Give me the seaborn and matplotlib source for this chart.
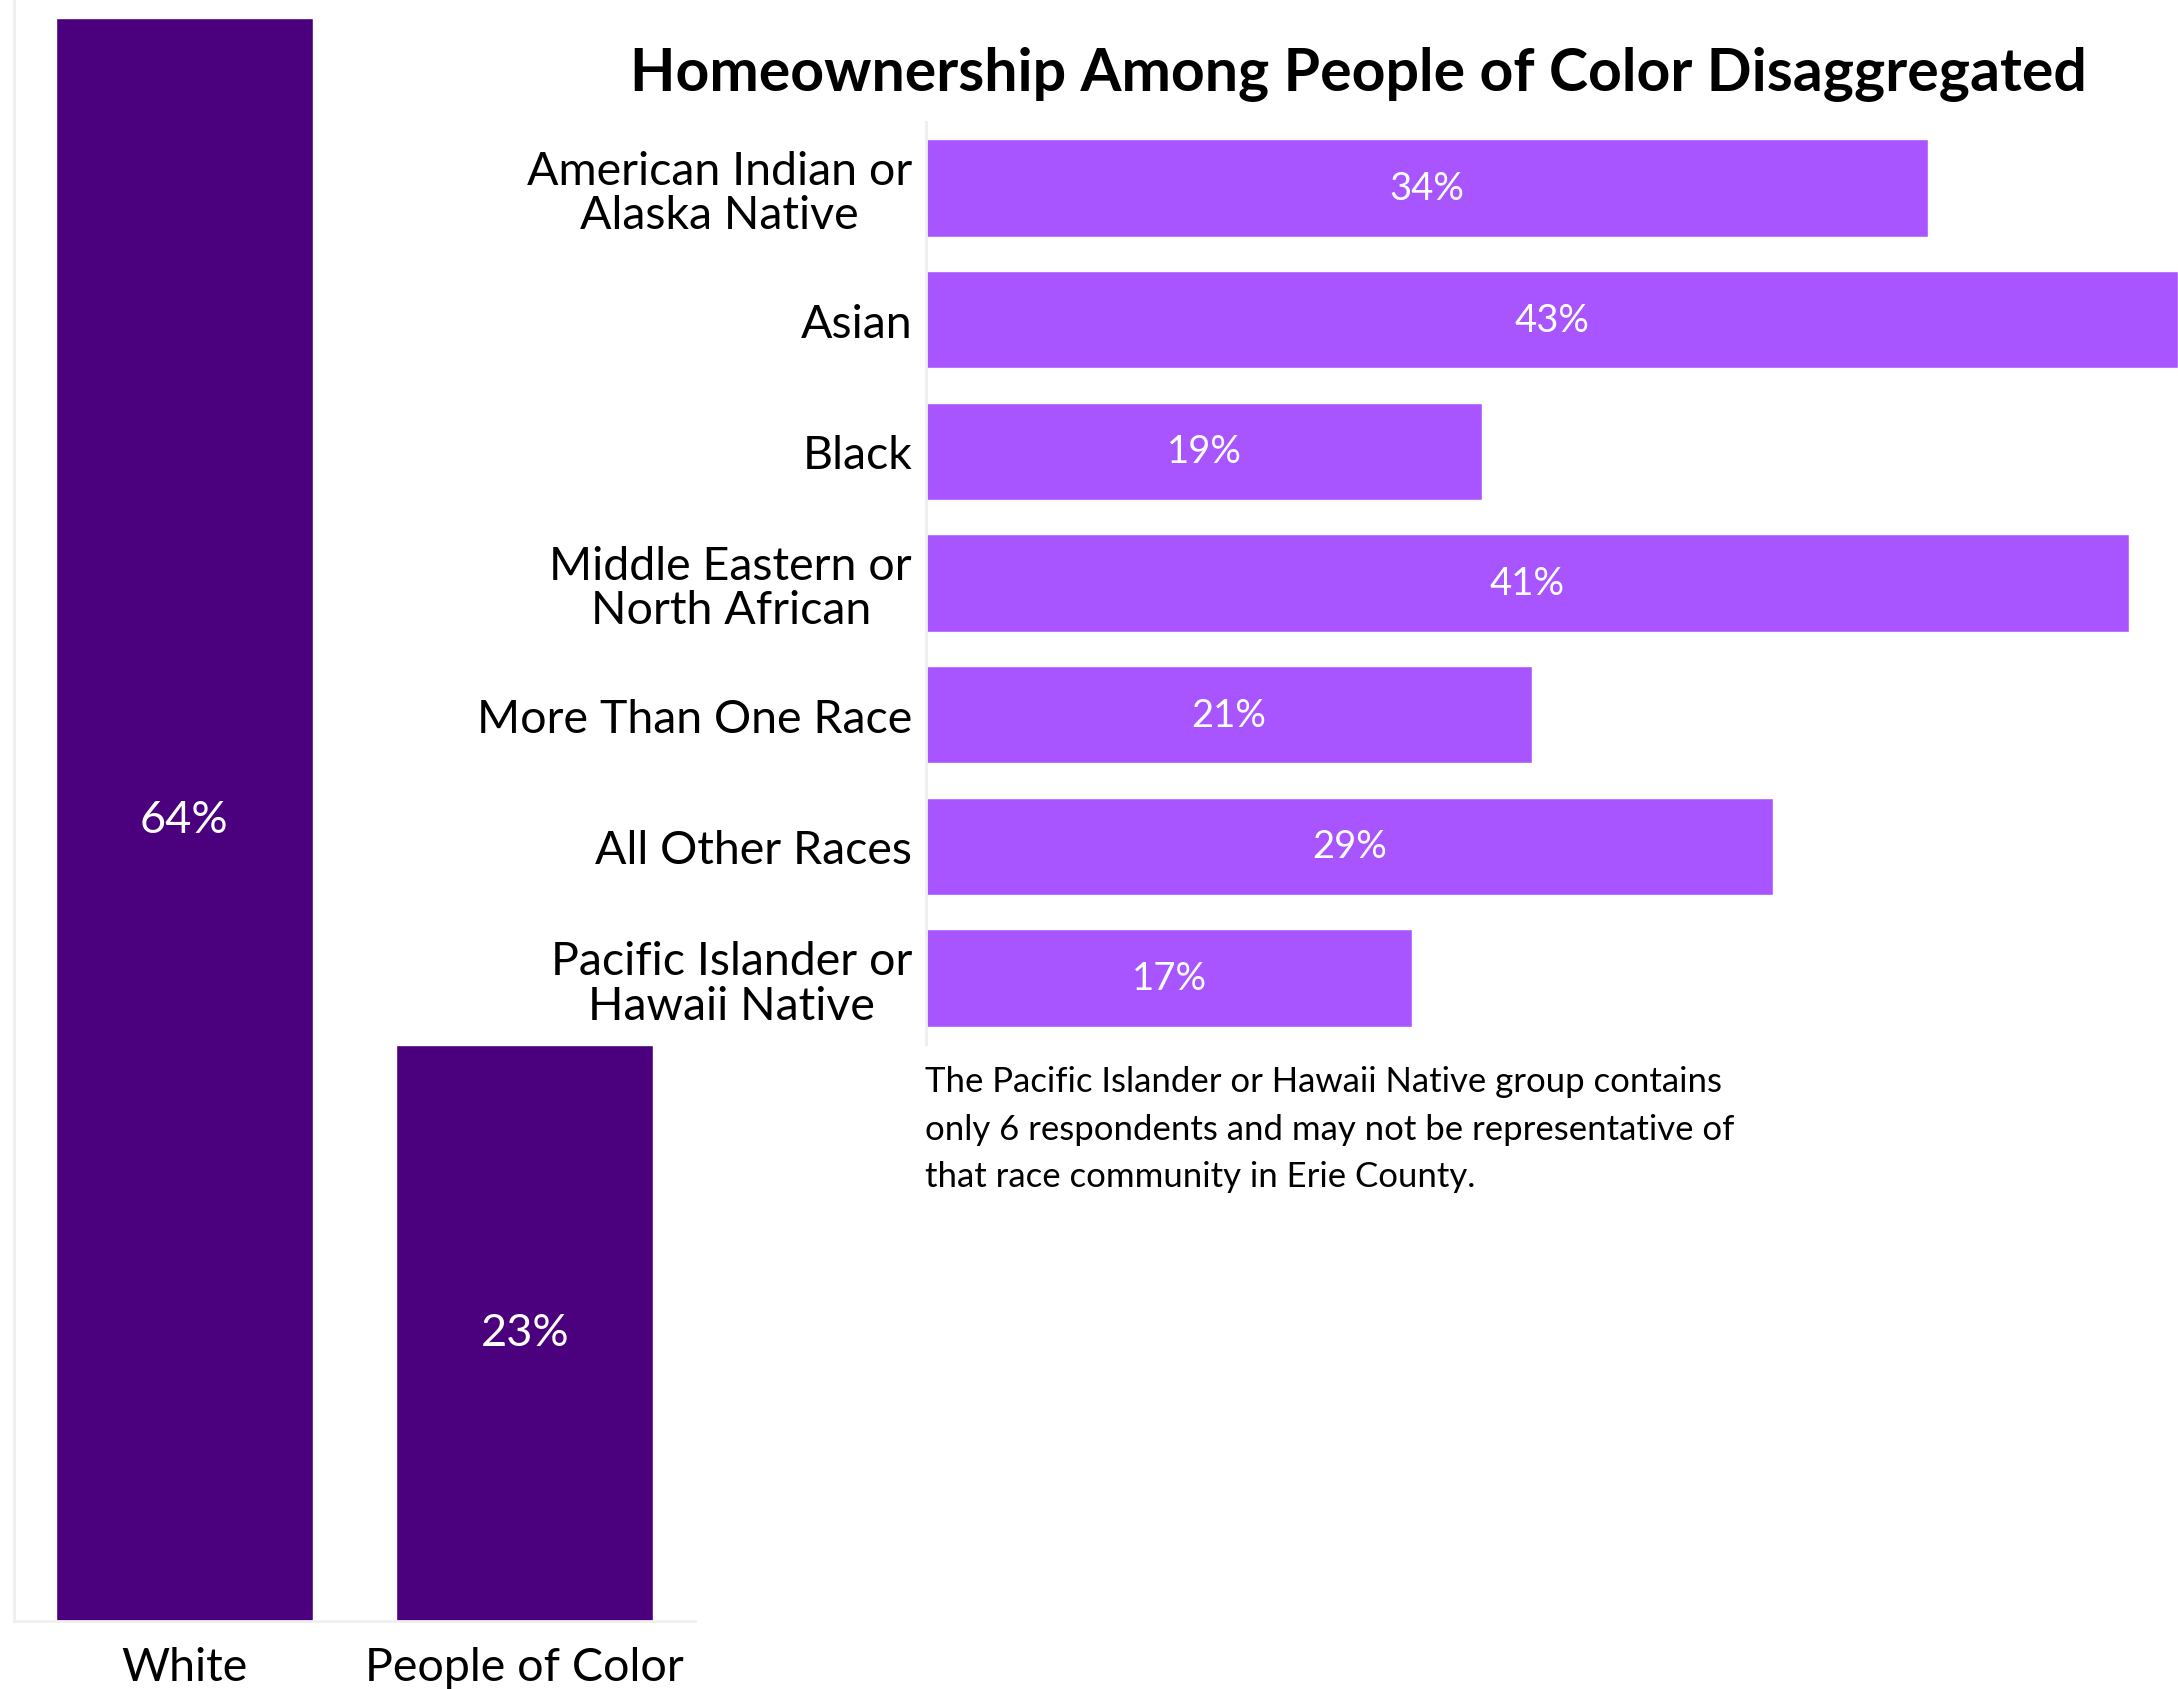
import matplotlib
matplotlib.use('Agg')
import matplotlib.pyplot as plt
import numpy as np
import seaborn as sns
import pandas as pd

# данные
main_groups = ['White', 'People of Color']
main_values = [64, 23]

poc_groups = ['American Indian or\nAlaska Native', 'Asian', 'Black',
              'Middle Eastern or\nNorth African', 'More Than One Race',
              'All Other Races', 'Pacific Islander or\nHawaii Native']
poc_values = [34.4, 43.0, 19.1, 41.3, 20.8, 29.1, 16.7]

title = 'Homeownership Among People of Color Disaggregated'
note = ('The Pacific Islander or Hawaii Native group contains\n'
        'only 6 respondents and may not be representative of\n'
        'that race community in Erie County.')

dark = '#4B007D'
light = '#A855FF'
grid = '#EFEFEF'

sns.set_style('white')
plt.rcParams['font.family'] = ['Lato', 'DejaVu Sans']
plt.rcParams['text.color'] = 'black'
plt.rcParams['xtick.labelcolor'] = 'black'
plt.rcParams['ytick.labelcolor'] = 'black'

W, H = 2178, 1690
fig = plt.figure(figsize=(W / 100, H / 100), dpi=100)

# левый график
ax1 = fig.add_axes([14 / W, 68 / H, 681 / W, 1622 / H])
df1 = pd.DataFrame({'group': main_groups, 'value': main_values})
sns.barplot(data=df1, x='group', y='value', color=dark, saturation=1,
            width=0.755, ax=ax1)
ax1.set_ylim(0, 64.76)
ax1.set_xlim(-0.5, 1.5)
ax1.bar_label(ax1.containers[0], labels=[f'{v:.0f}%' for v in main_values],
              label_type='center', color='white', fontsize=32.5)
ax1.set_xlabel('')
ax1.set_ylabel('')
ax1.set_yticks([])
ax1.tick_params(axis='x', which='major', length=0, labelsize=33.5, pad=18)
ax1.set_xticks([-0.5, 0.5, 1.5], minor=True)
ax1.tick_params(axis='x', which='minor', length=8, width=1.5, color=grid)
for s in ['top', 'right']:
    ax1.spines[s].set_visible(False)
for s in ['left', 'bottom']:
    ax1.spines[s].set_color(grid)
    ax1.spines[s].set_linewidth(2)

# правый график
ax2 = fig.add_axes([926 / W, 645 / H, 1252 / W, 922 / H])
df2 = pd.DataFrame({'group': poc_groups, 'value': poc_values})
sns.barplot(data=df2, x='value', y='group', orient='h', color=light,
            saturation=1, width=0.74, ax=ax2)
ax2.set_xlim(0, 43.0)
ax2.bar_label(ax2.containers[0], labels=[f'{v:.0f}%' for v in poc_values],
              label_type='center', color='white', fontsize=27.5)
ax2.set_xlabel('')
ax2.set_ylabel('')
ax2.set_xticks([])
ax2.tick_params(axis='y', length=0, labelsize=33.5, pad=10)
for lbl in ax2.get_yticklabels():
    lbl.set_multialignment('center')
    lbl.set_linespacing(1.07)
for s in ['top', 'right', 'bottom']:
    ax2.spines[s].set_visible(False)
ax2.spines['left'].set_color(grid)
ax2.spines['left'].set_linewidth(2)

fig.text(1358 / W, 1 - 75 / H, title, ha='center', va='center',
         fontsize=42.5, fontweight='bold')
fig.text(925 / W, 1 - 1066 / H, note, ha='left', va='top', fontsize=25,
         linespacing=1.6)

fig.savefig('out.png', dpi=100)
